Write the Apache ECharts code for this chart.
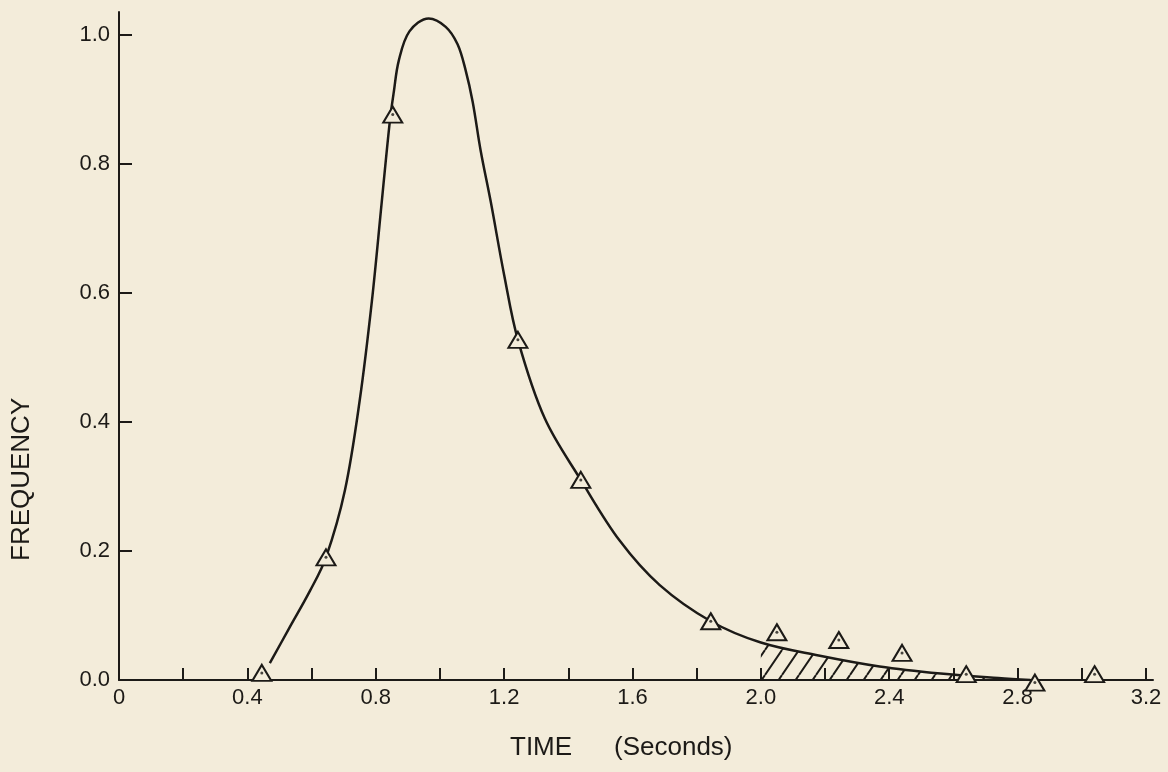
<!DOCTYPE html>
<html>
<head>
<meta charset="utf-8">
<script src="https://cdn.jsdelivr.net/npm/echarts@6/dist/echarts.min.js"></script>
<style>
  html, body { margin: 0; padding: 0; background: #f3ecda; }
  #chart { width: 1168px; height: 772px; }
</style>
</head>
<body>
<div id="chart"></div>
<script>
// Fitted curve
const curveX = [0.47, 0.53, 0.595, 0.645, 0.704, 0.75, 0.788, 0.819, 0.844, 0.856, 0.872, 0.905, 0.965, 1.018, 1.055, 1.08, 1.102, 1.127, 1.158, 1.2, 1.243, 1.327, 1.439, 1.56, 1.685, 1.844, 2.0, 2.18, 2.37, 2.56, 2.74, 2.84];
const curveY = [0.026, 0.08, 0.138, 0.19, 0.294, 0.433, 0.587, 0.742, 0.866, 0.91, 0.96, 1.005, 1.025, 1.012, 0.985, 0.945, 0.896, 0.82, 0.742, 0.628, 0.527, 0.405, 0.31, 0.216, 0.147, 0.091, 0.058, 0.038, 0.021, 0.01, 0.003, 0.0];
// Observed points (triangles)
const pointX = [0.445, 0.645, 0.853, 1.243, 1.439, 1.844, 2.05, 2.243, 2.44, 2.64, 2.854, 3.04];
const pointY = [0.011, 0.19, 0.876, 0.527, 0.31, 0.091, 0.074, 0.062, 0.042, 0.009, -0.004, 0.009];
// Shaded tail starts at
const hatchStart = 2.0;
// Axis ticks and labels
const xTickValues = [0, 0.2, 0.4, 0.6, 0.8, 1.0, 1.2, 1.4, 1.6, 1.8, 2.0, 2.2, 2.4, 2.6, 2.8, 3.0, 3.2];
const xLabelValues = [0, 0.4, 0.8, 1.2, 1.6, 2.0, 2.4, 2.8, 3.2];
const yTickValues = [0, 0.2, 0.4, 0.6, 0.8, 1.0];
const yLabelValues = [0, 0.2, 0.4, 0.6, 0.8, 1.0];
const xTitleA = 'TIME';
const xTitleB = '(Seconds)';
const yTitle = 'FREQUENCY';

const ink = '#1c1a17';
const paper = '#f3ecda';
const font = 'Liberation Sans';

const curveData = curveX.map((x, i) => [x, curveY[i]]);
const hatchData = curveData.filter(d => d[0] >= hatchStart);
const pointData = pointX.map((x, i) => [x, pointY[i]]);

// hatch pattern ("/" lines)
const W = 17, H = 25;
const pc = document.createElement('canvas');
pc.width = W; pc.height = H;
const g = pc.getContext('2d');
g.strokeStyle = ink;
g.lineWidth = 2;
g.beginPath();
for (let k = -1; k <= 1; k++) {
  g.moveTo(k * W, H); g.lineTo(k * W + W, 0);
}
g.stroke();

const chart = echarts.init(document.getElementById('chart'), null, { renderer: 'canvas' });
chart.setOption({
  backgroundColor: paper,
  animation: false,
  grid: { left: 119, right: 15, top: 12, bottom: 92, containLabel: false },
  xAxis: {
    type: 'value', min: 0, max: 3.222,
    axisLine: { show: true, onZero: false, lineStyle: { color: ink, width: 2 } },
    axisTick: { show: true, inside: true, length: 12, customValues: xTickValues, lineStyle: { color: ink, width: 2 } },
    axisLabel: {
      customValues: xLabelValues, margin: 7, fontFamily: font, fontSize: 22, color: ink,
      formatter: v => (Math.abs(v) < 1e-9 ? '0' : v.toFixed(1))
    },
    splitLine: { show: false }
  },
  yAxis: {
    type: 'value', min: 0, max: 1.035,
    axisLine: { show: true, lineStyle: { color: ink, width: 2 } },
    axisTick: { show: true, inside: true, length: 13, customValues: yTickValues, lineStyle: { color: ink, width: 2 } },
    axisLabel: {
      customValues: yLabelValues, margin: 9, fontFamily: font, fontSize: 22, color: ink,
      formatter: v => v.toFixed(1)
    },
    splitLine: { show: false }
  },
  graphic: [
    { type: 'text', left: 510, top: 735, style: { text: xTitleA, font: '26px "Liberation Sans"', fill: ink } },
    { type: 'text', left: 614, top: 735, style: { text: xTitleB, font: '26px "Liberation Sans"', fill: ink } },
    { type: 'text', x: 9, y: 561, rotation: Math.PI / 2,
      style: { text: yTitle, font: '26px "Liberation Sans"', fill: ink, textAlign: 'left', textVerticalAlign: 'top' } }
  ],
  series: [
    {
      type: 'line', data: hatchData, smooth: 0.35, symbol: 'none', z: 1,
      lineStyle: { width: 0 },
      areaStyle: { color: { image: pc, repeat: 'repeat' }, opacity: 1 }
    },
    {
      type: 'line', data: curveData, smooth: 0.35, symbol: 'none', z: 2,
      lineStyle: { color: ink, width: 2.5 }
    },
    {
      type: 'scatter', data: pointData, symbol: 'triangle', symbolSize: [19, 16], z: 3, clip: false,
      itemStyle: { color: paper, borderColor: ink, borderWidth: 2, opacity: 1 }
    },
    {
      type: 'scatter', data: pointData, symbol: 'circle', symbolSize: 3, z: 4, clip: false,
      itemStyle: { color: ink }
    }
  ]
});
</script>
</body>
</html>
